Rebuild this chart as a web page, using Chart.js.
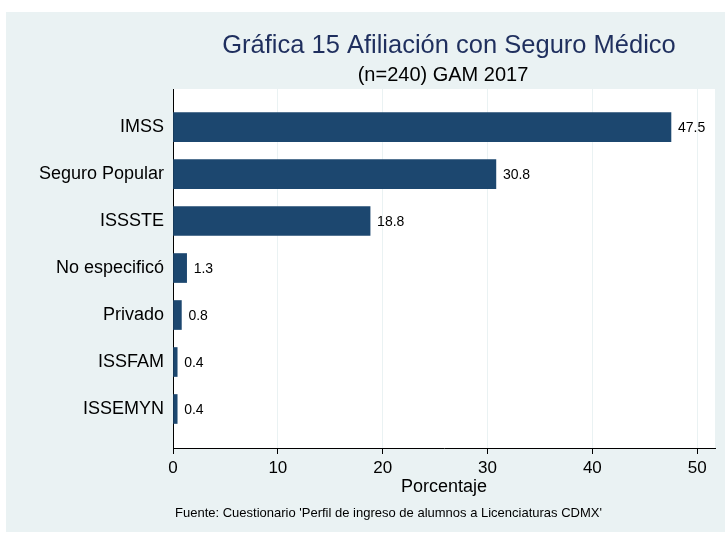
<!DOCTYPE html>
<html>
<head>
<meta charset="utf-8">
<script src="https://cdn.jsdelivr.net/npm/chart.js@4"></script>
<style>
  html, body { margin: 0; padding: 0; background: #fff; }
  canvas { display: block; }
</style>
</head>
<body>
<canvas id="afiliacion" width="725" height="533"></canvas>
<script>
// Datos
const categories = ['IMSS', 'Seguro Popular', 'ISSSTE', 'No especificó', 'Privado', 'ISSFAM', 'ISSEMYN']
const percentages = [47.5, 30.8, 18.8, 1.3, 0.8, 0.4, 0.4]
const xTicks = [0, 10, 20, 30, 40, 50]

const titleText = 'Gráfica 15 Afiliación con Seguro Médico'
const subtitleText = '(n=240) GAM 2017'
const noteText = "Fuente: Cuestionario 'Perfil de ingreso de alumnos a Licenciaturas CDMX'"

const barColor = '#1c476f'
const backColor = '#eaf2f3'
const fontFamily = '"Liberation Sans", Arial, sans-serif'

// background, white plot region, titles and note
const frame = {
    id: 'frame',
    beforeDraw(chart) {
        const {ctx, chartArea} = chart
        ctx.save()
        ctx.fillStyle = '#fff'
        ctx.fillRect(0, 0, chart.width, chart.height)
        ctx.fillStyle = backColor
        ctx.fillRect(6, 12, chart.width - 6, chart.height - 13)
        ctx.fillStyle = '#fff'
        ctx.fillRect(chartArea.left, chartArea.top, chartArea.right - chartArea.left, chartArea.bottom - chartArea.top)
        ctx.restore()
    },
    afterDraw(chart) {
        const {ctx, chartArea} = chart
        const cx = (chartArea.left + chartArea.right) / 2
        ctx.save()
        ctx.textAlign = 'center'
        ctx.textBaseline = 'middle'
        ctx.fillStyle = '#1f2f5e'
        ctx.font = '25.5px ' + fontFamily
        ctx.fillText(titleText, cx + 5, 46)
        ctx.fillStyle = '#000'
        ctx.font = '20px ' + fontFamily
        ctx.fillText(subtitleText, cx - 1, 75)
        ctx.textAlign = 'left'
        ctx.font = '13px ' + fontFamily
        ctx.fillText(noteText, chartArea.left + 2, 513)
        ctx.restore()
    }
}

// value labels at the end of each bar
const barValues = {
    id: 'barValues',
    afterDatasetsDraw(chart) {
        const {ctx} = chart
        const meta = chart.getDatasetMeta(0)
        ctx.save()
        ctx.font = '14px ' + fontFamily
        ctx.fillStyle = '#000'
        ctx.textAlign = 'left'
        ctx.textBaseline = 'middle'
        meta.data.forEach((bar, i) => {
            ctx.fillText(percentages[i].toFixed(1), bar.x + 7, bar.y + 1)
        })
        ctx.restore()
    }
}

new Chart(document.getElementById('afiliacion'), {
    type: 'bar',
    data: {
        labels: categories.map((c, i) => i),
        datasets: [{
            data: percentages,
            backgroundColor: barColor,
            borderWidth: 0,
            barThickness: 29
        }]
    },
    options: {
        indexAxis: 'y',
        responsive: false,
        animation: false,
        events: [],
        layout: {
            padding: { top: 89, right: 10, left: 0, bottom: 0 }
        },
        plugins: {
            legend: { display: false },
            tooltip: { enabled: false }
        },
        scales: {
            y: {
                type: 'linear',
                reverse: true,
                offset: false,
                min: -0.81,
                max: 6.83,
                afterBuildTicks: (scale) => {
                    scale.ticks = categories.map((c, i) => ({ value: i }))
                },
                afterFit: (scale) => { scale.width = 173 },
                grid: { display: false, drawTicks: false },
                border: { display: true, color: '#000', width: 1 },
                ticks: {
                    autoSkip: false,
                    padding: 9,
                    color: '#000',
                    font: { family: fontFamily, size: 18 },
                    callback: (value) => categories[value]
                }
            },
            x: {
                min: 0,
                max: 51.7,
                afterBuildTicks: (scale) => {
                    scale.ticks = xTicks.map(v => ({ value: v }))
                },
                afterFit: (scale) => { scale.height = 85 },
                grid: {
                    color: backColor,
                    lineWidth: 1,
                    tickColor: '#000',
                    tickLength: 6
                },
                border: { display: true, color: '#000', width: 1 },
                ticks: {
                    padding: 4,
                    color: '#000',
                    font: { family: fontFamily, size: 17 }
                },
                title: {
                    display: true,
                    text: 'Porcentaje',
                    color: '#000',
                    font: { family: fontFamily, size: 18 },
                    padding: { top: 0, bottom: 35 }
                }
            }
        }
    },
    plugins: [frame, barValues]
});
</script>
</body>
</html>
